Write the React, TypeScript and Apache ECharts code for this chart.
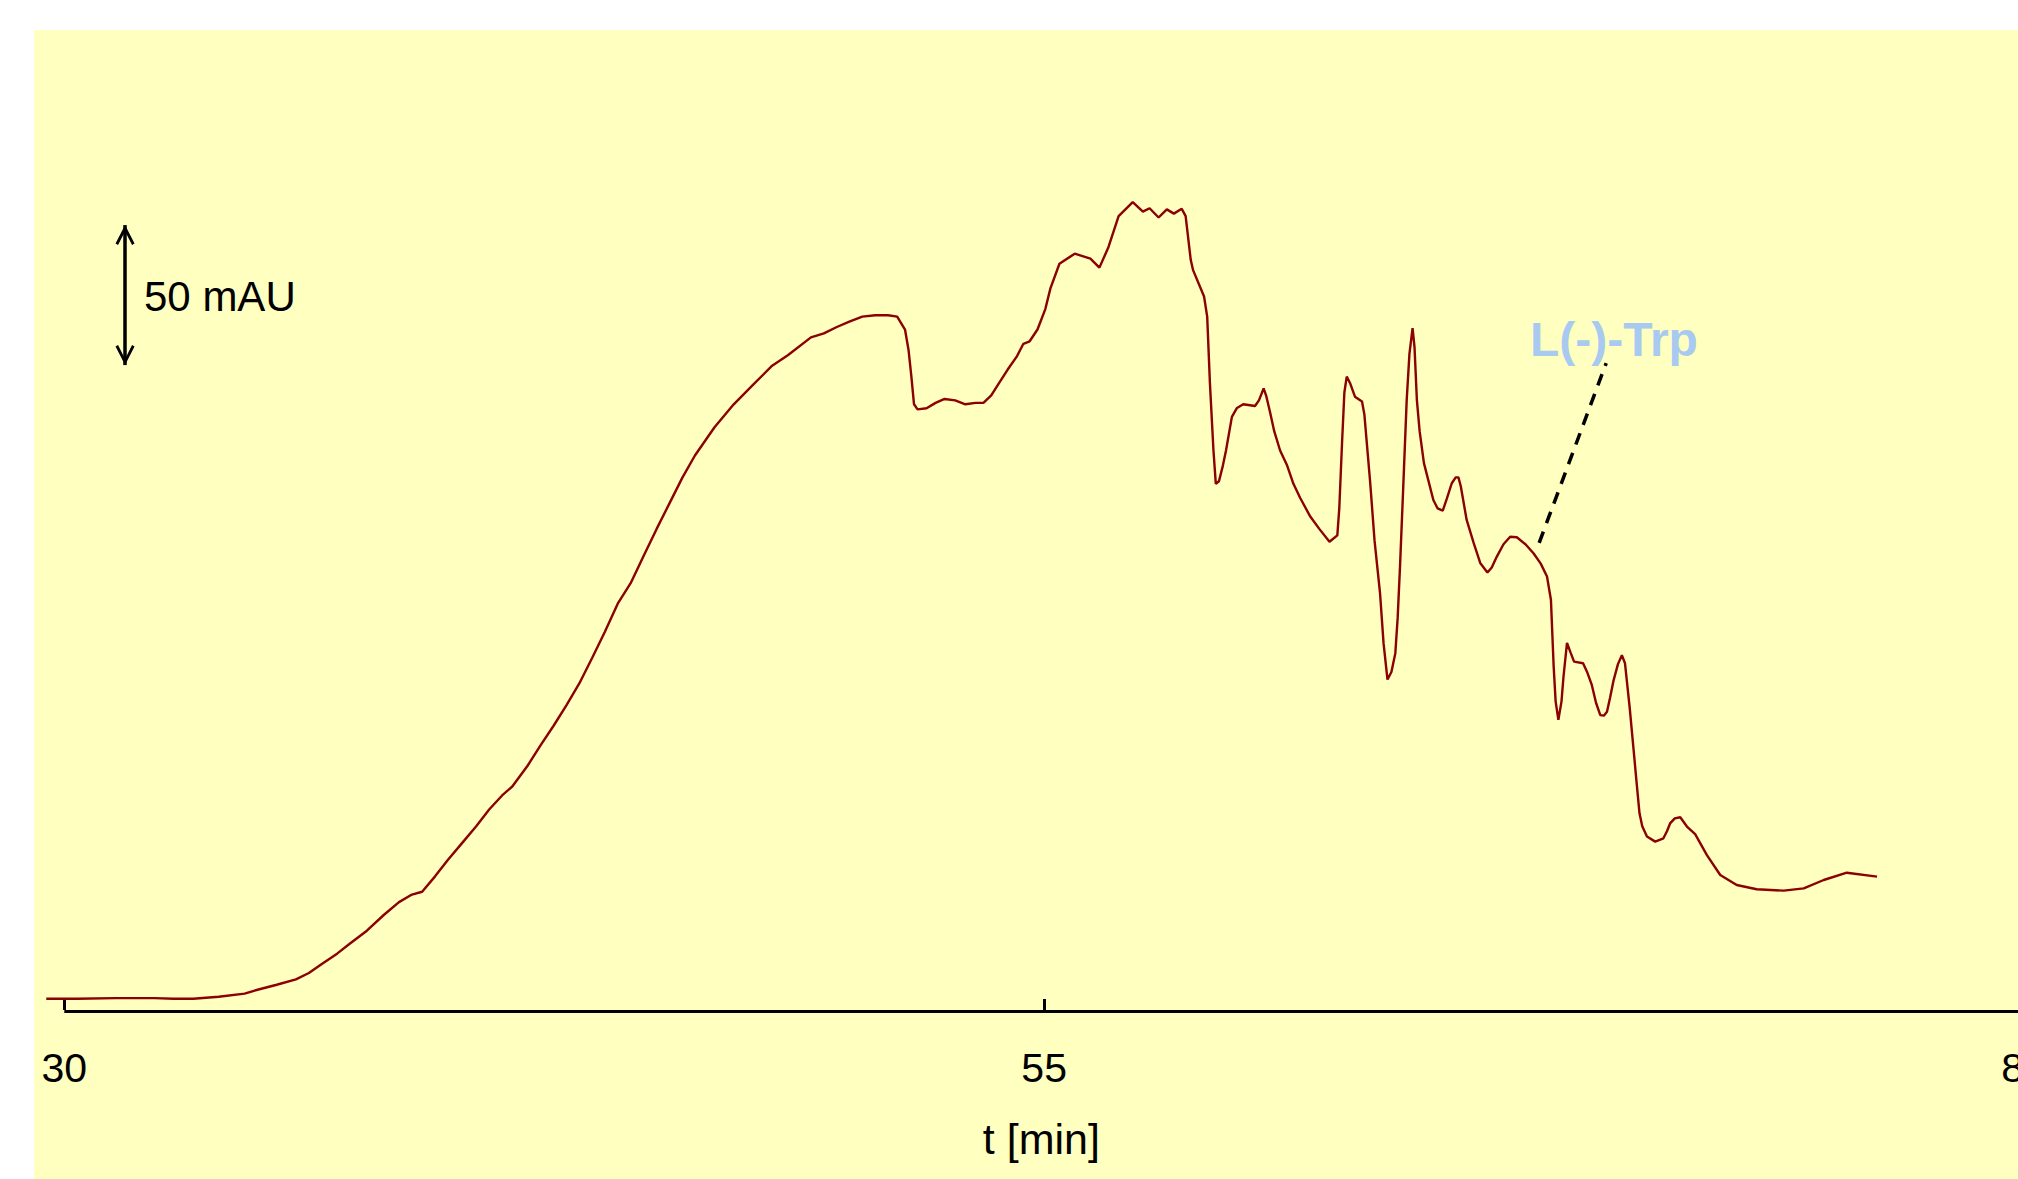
import React, { useEffect, useRef } from "react";
import * as echarts from "echarts";

// Retention time [min]
const timeMin = [
  29.54, 30.33, 31.31, 32.3, 32.79, 33.29, 33.94, 34.6, 34.93, 35.42,
  35.91, 36.24, 36.57, 36.96, 37.29, 37.72, 38.15, 38.54, 38.87, 39.13,
  39.46, 39.79, 40.18, 40.51, 40.84, 41.17, 41.43, 41.82, 42.15, 42.48,
  42.81, 43.14, 43.47, 43.79, 44.12, 44.45, 44.78, 45.11, 45.44, 45.77,
  46.09, 46.59, 47.08, 47.57, 48.06, 48.46, 49.05, 49.38, 49.71, 50.03,
  50.36, 50.69, 51.02, 51.25, 51.45, 51.54, 51.61, 51.68, 51.77, 52.0,
  52.23, 52.46, 52.73, 52.99, 53.25, 53.45, 53.65, 53.84, 54.07, 54.3,
  54.47, 54.63, 54.83, 55.03, 55.16, 55.39, 55.78, 56.18, 56.41, 56.64,
  56.9, 57.26, 57.52, 57.69, 57.92, 58.13, 58.31, 58.51, 58.61, 58.74,
  58.8, 59.08, 59.16, 59.23, 59.32, 59.38, 59.46, 59.56, 59.64, 59.79,
  59.92, 60.08, 60.38, 60.48, 60.6, 60.67, 60.77, 60.87, 61.02, 61.2,
  61.36, 61.53, 61.79, 62.02, 62.28, 62.48, 62.53, 62.6, 62.66, 62.72,
  62.81, 62.93, 63.11, 63.17, 63.32, 63.43, 63.57, 63.66, 63.76, 63.86,
  63.96, 64.02, 64.08, 64.16, 64.25, 64.32, 64.4, 64.45, 64.51, 64.58,
  64.69, 64.93, 65.04, 65.17, 65.27, 65.4, 65.5, 65.57, 65.63, 65.78,
  65.96, 66.13, 66.31, 66.42, 66.55, 66.72, 66.89, 67.06, 67.28, 67.49,
  67.67, 67.83, 67.93, 68.0, 68.05, 68.12, 68.2, 68.25, 68.34, 68.43,
  68.52, 68.75, 68.85, 68.97, 69.08, 69.19, 69.28, 69.36, 69.44, 69.53,
  69.64, 69.74, 69.82, 69.94, 70.04, 70.11, 70.19, 70.26, 70.38, 70.59,
  70.8, 70.89, 70.97, 71.09, 71.23, 71.4, 71.61, 71.91, 72.25, 72.67,
  73.18, 73.87, 74.38, 74.89, 75.48, 76.25,
];

// Absorbance [mAU] relative to baseline
const absorbanceMAU = [
  0.1, 0.1, 0.3, 0.3, 0.1, 0.1, 0.8, 1.9, 3.3, 5.1,
  7.0, 9.3, 12.5, 16.2, 19.8, 24.4, 30.0, 34.6, 37.3, 38.3,
  43.8, 49.7, 56.2, 61.7, 67.7, 72.7, 75.9, 83.3, 90.6, 97.5,
  104.9, 112.7, 121.9, 131.1, 141.2, 148.5, 158.2, 167.8, 177.0, 186.2,
  194.1, 204.2, 212.4, 219.3, 226.2, 229.9, 236.3, 237.7, 240.0, 241.9,
  243.7, 244.2, 244.2, 243.7, 239.1, 231.8, 222.6, 212.4, 210.6, 211.0,
  212.9, 214.3, 213.8, 212.4, 212.9, 212.9, 215.6, 219.8, 224.8, 229.4,
  234.0, 234.9, 239.1, 246.4, 253.8, 262.6, 266.2, 264.4, 261.2, 268.5,
  279.6, 284.6, 281.2, 282.4, 279.1, 282.0, 280.5, 282.2, 279.6, 264.0,
  260.3, 250.9, 243.7, 219.8, 195.9, 184.0, 184.9, 190.5, 195.9, 207.9,
  211.1, 212.4, 211.8, 213.8, 218.1, 215.2, 209.2, 202.8, 195.9, 190.5,
  184.0, 179.0, 172.3, 167.9, 163.3, 165.6, 175.2, 198.5, 216.6, 222.3,
  219.8, 215.1, 213.4, 208.8, 184.2, 163.7, 144.9, 127.0, 114.1, 116.8,
  123.5, 136.2, 154.6, 182.2, 213.9, 230.4, 239.6, 232.7, 213.9, 202.8,
  191.4, 178.2, 175.2, 174.4, 178.5, 184.2, 186.3, 186.3, 183.1, 171.1,
  162.8, 155.6, 152.3, 154.1, 158.0, 162.4, 165.1, 164.9, 162.4, 159.1,
  155.5, 150.9, 142.6, 118.7, 106.3, 99.7, 106.3, 115.0, 127.2, 123.8,
  120.5, 119.9, 116.9, 112.3, 105.8, 101.4, 101.2, 102.6, 107.7, 113.9,
  119.6, 122.8, 119.9, 104.0, 88.9, 78.2, 66.3, 61.7, 58.0, 56.2,
  57.4, 59.9, 62.7, 64.5, 64.9, 61.6, 58.9, 51.4, 44.3, 40.7,
  39.2, 38.7, 39.5, 42.5, 45.1, 43.7,
];

const xTickValues = [30, 55, 80];
const xAxisTitle = "t [min]";
const xRange = [29.5, 80];
const yRange = [-4.5, 320];

// scale bar: 50 mAU
const scaleBarTime = 31.55;
const scaleBarStart = 226.4;
const scaleBarSpan = 50;
const scaleBarLabel = "50 mAU";

// peak annotation
const annotationLabel = "L(-)-Trp";
const annotationFrom = [67.63, 162.9];
const annotationTo = [69.34, 227.1];

const FONT = '"Liberation Sans", Arial, Helvetica, sans-serif';
const CHEVRON = "path://M9.5,0 L19,18 L16.5,19.5 L9.5,6 L2.5,19.5 L0,18 Z";

export default function App() {
  const ref = useRef<HTMLDivElement>(null);

  useEffect(() => {
    if (!ref.current) return;
    const chart = echarts.init(ref.current, undefined, { renderer: "svg" });
    const data = timeMin.map((t, i) => [t, absorbanceMAU[i]]);

    chart.setOption({
      animation: false,
      backgroundColor: "#ffffff",
      grid: {
        left: 44.7,
        width: 1979.3,
        top: 103,
        height: 908.6,
        containLabel: false,
        outerBoundsMode: "none",
      },
      xAxis: {
        type: "value",
        min: xRange[0],
        max: xRange[1],
        name: xAxisTitle,
        nameLocation: "middle",
        nameGap: 106,
        nameTextStyle: { fontSize: 43, color: "#000", fontFamily: FONT, padding: [0, 0, 0, 14] },
        axisLine: { show: false },
        axisTick: {
          show: true,
          length: 11,
          customValues: xTickValues,
          lineStyle: { color: "#000", width: 3 },
        },
        axisLabel: {
          fontSize: 41,
          color: "#000",
          fontFamily: FONT,
          margin: 36,
          customValues: xTickValues,
          showMaxLabel: true,
          showMinLabel: true,
          hideOverlap: false,
        },
        splitLine: { show: false },
      },
      yAxis: { type: "value", min: yRange[0], max: yRange[1], show: false },
      graphic: [
        {
          type: "rect",
          z: -100,
          silent: true,
          left: 34,
          top: 30,
          shape: { width: 1984, height: 1149 },
          style: { fill: "#FFFFC0" },
        },
        {
          type: "text",
          left: 144,
          top: 275,
          silent: true,
          style: { text: scaleBarLabel, fontSize: 42, fontFamily: FONT, fill: "#000" },
        },
        {
          type: "text",
          left: 1530,
          top: 315,
          silent: true,
          style: { text: annotationLabel, fontSize: 48, fontWeight: "bold", fontFamily: FONT, fill: "#A8C9F0" },
        },
      ],
      series: [
        {
          type: "line",
          data,
          showSymbol: false,
          symbol: "none",
          smooth: false,
          clip: false,
          lineStyle: { color: "#8B0000", width: 2.4 },
          silent: true,
          z: 3,
          markLine: {
            silent: true,
            animation: false,
            label: { show: false },
            emphasis: { disabled: true },
            data: [
              // x axis line, from the first tick onwards
              [
                {
                  coord: [xTickValues[0], yRange[0]],
                  symbol: "none",
                  lineStyle: { color: "#000", width: 3, type: "solid" },
                },
                { coord: [xTickValues[xTickValues.length - 1], yRange[0]], symbol: "none" },
              ],
              [
                {
                  coord: [scaleBarTime, scaleBarStart],
                  symbol: CHEVRON,
                  symbolSize: [19, 20],
                  symbolOffset: [0, 10],
                  lineStyle: { color: "#000", width: 3.5, type: "solid" },
                },
                {
                  coord: [scaleBarTime, scaleBarStart + scaleBarSpan],
                  symbol: CHEVRON,
                  symbolSize: [19, 20],
                  symbolOffset: [0, 10],
                },
              ],
              [
                {
                  coord: annotationFrom,
                  symbol: "none",
                  lineStyle: { color: "#000", width: 3.5, type: [12, 9] },
                },
                { coord: annotationTo, symbol: "none" },
              ],
            ],
          },
        },
      ],
    });

    return () => chart.dispose();
  }, []);

  return (
    <div
      ref={ref}
      style={{ position: "fixed", left: 0, top: 0, width: 2018, height: 1179, background: "#fff" }}
    />
  );
}
